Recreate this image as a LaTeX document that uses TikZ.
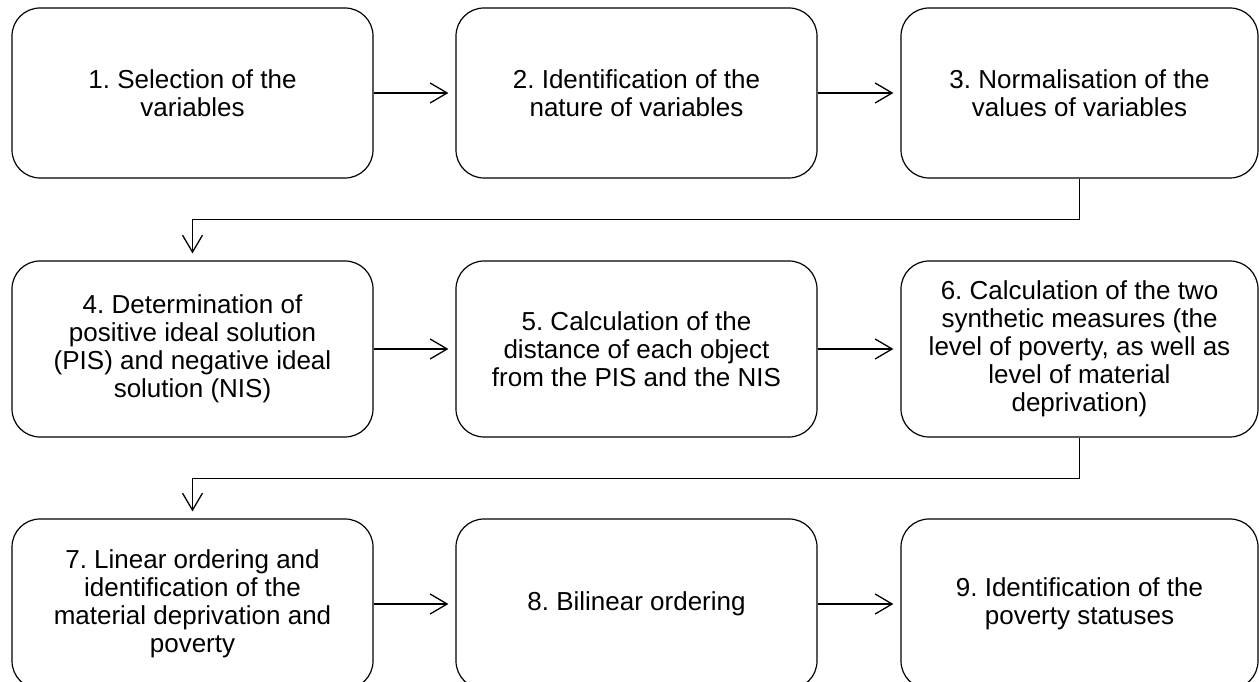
\documentclass[tikz,border=0pt]{standalone}
\usepackage{fontspec}
\setmainfont{Liberation Sans}
\usetikzlibrary{arrows.meta}
\begin{document}
\frenchspacing
\begin{tikzpicture}[x=1pt,y=1pt,
  stepbox/.style={draw, line width=1.2pt, rounded corners=28pt, minimum width=361pt, minimum height=170pt, align=center, inner sep=0pt, font=\fontsize{26}{28}\selectfont},
  tallbox/.style={stepbox, minimum height=176pt},
  narrow/.style={minimum width=357pt},
  arr/.style={line width=1.3pt, -{Straight Barb[length=17pt,width=20pt,line width=1.3pt]}, shorten >=7pt}]
\useasboundingbox (0,0) rectangle (1259,682);
\node[stepbox] (b1) at (192.5,589) {1. Selection of the\\variables};
\node[stepbox] (b2) at (636.5,589) {2. Identification of the\\nature of variables};
\node[stepbox,narrow] (b3) at (1079.5,589) {3. Normalisation of the\\values of variables};
\node[tallbox] (b4) at (192.5,333) {4. Determination of\\positive ideal solution\\(PIS) and negative ideal\\solution (NIS)};
\node[tallbox] (b5) at (636.5,333) {5. Calculation of the\\distance of each object\\from the PIS and the NIS};
\node[tallbox,narrow] (b6) at (1079.5,333) {6. Calculation of the two\\synthetic measures (the\\level of poverty, as well as\\level of material\\deprivation)};
\node[stepbox] (b7) at (192.5,78) {7. Linear ordering and\\identification of the\\material deprivation and\\poverty};
\node[stepbox] (b8) at (636.5,78) {8. Bilinear ordering};
\node[stepbox,narrow] (b9) at (1079.5,78) {9. Identification of the\\poverty statuses};
\draw[arr] (b1) -- (b2);
\draw[arr] (b2) -- (b3);
\draw[arr] (b4) -- (b5);
\draw[arr] (b5) -- (b6);
\draw[arr] (b7) -- (b8);
\draw[arr] (b8) -- (b9);
\draw[arr] (b3.south) -- ++(0,-41) -| (b4.north);
\draw[arr] (b6.south) -- ++(0,-41) -| (b7.north);
\end{tikzpicture}
\end{document}
